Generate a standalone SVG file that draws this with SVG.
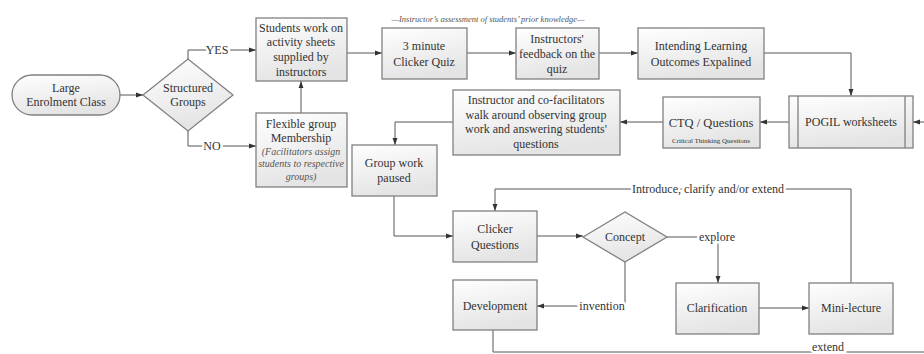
<svg xmlns="http://www.w3.org/2000/svg" width="924" height="354" viewBox="0 0 924 354">
<defs>
<linearGradient id="g" x1="0" y1="0" x2="0.3" y2="1">
<stop offset="0" stop-color="#ffffff"/>
<stop offset="1" stop-color="#e4e4e4"/>
</linearGradient>
<marker id="arr" viewBox="0 0 10 10" refX="10" refY="5" markerWidth="7" markerHeight="7" orient="auto">
<path d="M0,1.5 L10,5 L0,8.5z" fill="#333"/>
</marker>
</defs>
<style>
.box{fill:url(#g);stroke:#808080;stroke-width:1.3}
.t{font-family:"Liberation Serif","DejaVu Serif",serif;font-size:12px;fill:#333;text-anchor:middle}
.it{font-style:italic;font-size:10px;fill:#555}
.c{fill:none;stroke:#555;stroke-width:1}
.a{marker-end:url(#arr)}
.lbl{font-family:"Liberation Serif","DejaVu Serif",serif;font-size:12px;fill:#333;text-anchor:middle;stroke:#fff;stroke-width:5;paint-order:stroke}
</style>
<rect width="924" height="354" fill="#fff"/>

<g id="connectors">
<path class="c a" d="M120,95 H143"/>
<path class="c a" d="M188,59 V50 H256"/>
<path class="c a" d="M188,131 V146 H256"/>
<path class="c a" d="M301,113 V81"/>
<path class="c a" d="M347,53 H382"/>
<path class="c a" d="M467,53 H516"/>
<path class="c a" d="M599,53 H638"/>
<path class="c a" d="M764,53 H851 V96"/>
<path class="c a" d="M924,122 H913"/>
<path class="c a" d="M789,122 H760"/>
<path class="c a" d="M663,122 H620"/>
<path class="c a" d="M453,122 H395 V145"/>
<path class="c a" d="M394,196 V236 H453"/>
<path class="c a" d="M537,236 H583"/>
<path class="c a" d="M625,262 V306 H537"/>
<path class="c a" d="M667,237 H718 V283"/>
<path class="c a" d="M759,308 H809"/>
<path class="c a" d="M851,283 V189 H495 V211"/>
<path class="c" d="M493,330 V352 H924"/>
<text class="lbl" x="217" y="54">YES</text>
<text class="lbl" x="212" y="150">NO</text>
<text class="lbl" x="602" y="310">invention</text>
<text class="lbl" x="717" y="241">explore</text>
<text class="lbl" x="708" y="193">Introduce, clarify and/or extend</text>
<text class="lbl" x="828" y="351">extend</text>
</g>

<text class="t it" x="488" y="22" style="font-size:8.5px">—Instructor’s assessment of students’ prior knowledge—</text>

<g id="n_start">
<rect class="box" x="12" y="75" width="108" height="40" rx="20"/>
<text class="t" x="66" y="92">Large</text>
<text class="t" x="66" y="106">Enrolment Class</text>
</g>
<g id="n_structured">
<polygon class="box" points="143,95 188,59 233,95 188,131"/>
<text class="t" x="188" y="92">Structured</text>
<text class="t" x="188" y="106">Groups</text>
</g>
<g id="n_students">
<rect class="box" x="256" y="18" width="91" height="63"/>
<text class="t" x="301" y="32">Students work on</text>
<text class="t" x="301" y="46">activity sheets</text>
<text class="t" x="301" y="61">supplied by</text>
<text class="t" x="301" y="76">instructors</text>
</g>
<g id="n_flexible">
<rect class="box" x="256" y="113" width="91" height="74"/>
<text class="t" x="301" y="128">Flexible group</text>
<text class="t" x="301" y="142">Membership</text>
<text class="t it" x="301" y="155">(Facilitators assign</text>
<text class="t it" x="301" y="167">students to respective</text>
<text class="t it" x="301" y="180">groups)</text>
</g>
<g id="n_quiz">
<rect class="box" x="382" y="28" width="85" height="51"/>
<text class="t" x="424" y="50">3 minute</text>
<text class="t" x="424" y="66">Clicker Quiz</text>
</g>
<g id="n_feedback">
<rect class="box" x="516" y="28" width="83" height="51"/>
<text class="t" x="557" y="43">Instructors'</text>
<text class="t" x="557" y="58">feedback on the</text>
<text class="t" x="557" y="73">quiz</text>
</g>
<g id="n_ilo">
<rect class="box" x="638" y="28" width="126" height="51"/>
<text class="t" x="701" y="50">Intending Learning</text>
<text class="t" x="701" y="66">Outcomes Expalined</text>
</g>
<g id="n_pogil">
<rect class="box" x="789" y="96" width="124" height="52"/>
<path d="M798,96 V148 M905,96 V148" stroke="#808080" stroke-width="1.3"/>
<text class="t" x="851" y="126">POGIL worksheets</text>
</g>
<g id="n_ctq">
<rect class="box" x="663" y="97" width="97" height="51"/>
<text class="t" x="711" y="127" style="font-size:12.5px">CTQ / Questions</text>
<text class="t" x="711" y="143" style="font-size:7px">Critical Thinking Questions</text>
</g>
<g id="n_walk">
<rect class="box" x="453" y="90" width="167" height="65"/>
<text class="t" x="536" y="104">Instructor and co-facilitators</text>
<text class="t" x="536" y="119">walk around observing group</text>
<text class="t" x="536" y="133">work and answering students'</text>
<text class="t" x="536" y="148">questions</text>
</g>
<g id="n_paused">
<rect class="box" x="352" y="145" width="85" height="51"/>
<text class="t" x="394" y="167">Group work</text>
<text class="t" x="394" y="182">paused</text>
</g>
<g id="n_clicker">
<rect class="box" x="453" y="211" width="84" height="51"/>
<text class="t" x="495" y="233">Clicker</text>
<text class="t" x="495" y="249">Questions</text>
</g>
<g id="n_concept">
<polygon class="box" points="583,237 625,212 667,237 625,262"/>
<text class="t" x="625" y="241">Concept</text>
</g>
<g id="n_dev">
<rect class="box" x="453" y="280" width="84" height="50"/>
<text class="t" x="495" y="310">Development</text>
</g>
<g id="n_clar">
<rect class="box" x="676" y="283" width="83" height="51"/>
<text class="t" x="717" y="312">Clarification</text>
</g>
<g id="n_mini">
<rect class="box" x="809" y="283" width="84" height="51"/>
<text class="t" x="851" y="312">Mini-lecture</text>
</g>
</svg>
